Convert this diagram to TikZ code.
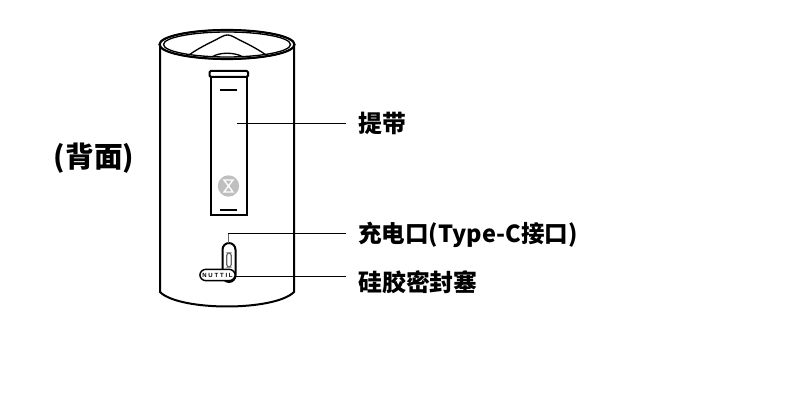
\documentclass[tikz,border=0pt]{standalone}
\usepackage{fontspec}
\setmainfont{Noto Sans CJK SC}
\newfontfamily\plugfont[LetterSpace=30]{Liberation Sans}
\usetikzlibrary{arrows.meta, positioning, calc}
\tikzset{
    bodyLine/.style={line width=1.5pt, black},
    thinLine/.style={line width=1pt, black},
    leadLine/.style={line width=0.65pt, black},
    calloutLabel/.style={anchor=west, inner xsep=9pt, inner ysep=0pt, font=\fontsize{17.9}{20}\selectfont\bfseries},
    grayDisc/.style={circle, fill=black!25, inner sep=0pt, minimum size=16pt}
}
\begin{document}
\begin{tikzpicture}[x=0.75pt, y=-0.75pt]
        \useasboundingbox (0,0) rectangle (790,416);

        % Coordinates
        \coordinate (strapEnd) at (237,123);
        \coordinate (portTop) at (228,243);
        \coordinate (portBend) at (228,233);
        \coordinate (plugEnd) at (235,276);

        % Body
        \draw[bodyLine] (160,45) -- (160,292) .. controls (170,302) and (200,306.5) .. (227,306.5)
            .. controls (254,306.5) and (284,302) .. (294,292) -- (294,45);

        % Rim and cone inside it
        \draw[thinLine, fill=white] (227,44.5) ellipse [x radius=67.5, y radius=14.5];
        \draw[line width=1.6pt] (227,44.5) ellipse [x radius=67.5, y radius=14.5];
        \draw[thinLine] (227,44.5) ellipse [x radius=63.5, y radius=12.5];
        \draw[thinLine] (189,55) .. controls (200,47) and (212,42) .. (222,36.5)
            .. controls (226,34.5) and (229,34.5) .. (233,36.5)
            .. controls (243,42) and (255,47) .. (266,55);
        \draw[thinLine] (212,57) .. controls (219,52) and (235,52) .. (243,57);

        % Strap
        \draw[bodyLine] (210.5,76) -- (210.5,215.5) -- (247,215.5) -- (247,76);
        \draw[bodyLine, fill=white, rounded corners=1pt] (209.5,71) rectangle (248,77);
        \draw[bodyLine] (220,90.5) -- (237,90.5);
        \draw[bodyLine] (220,210.5) -- (237,210.5);

        % Logo
        \node[grayDisc] (logoDisc) at (228.5,186) {};
        \draw[white, line width=1pt] (224,180) -- (233,180) -- (224,192) -- (233,192) -- cycle;

        % Charging port
        \draw[bodyLine, fill=white, rounded corners=5pt] (222.5,243) rectangle (235.5,282);
        \draw[line width=0.9pt, black!60, rounded corners=1.8pt] (226.8,253) rectangle (231.2,267);

        % Silicone plug
        \node[draw=black, line width=1.1pt, fill=white, rounded corners=4.5pt, minimum width=26.5pt, minimum height=8.5pt,
            inner sep=0pt, font=\plugfont\fontsize{4.5}{5}\selectfont\bfseries] (plugCap) at (217.5,275) {NUTTIL};

        % Labels
        \node[calloutLabel] (strapLabel) at (346,123.5) {提带};
        \node[calloutLabel, font=\fontsize{17.65}{20}\selectfont\bfseries] (portLabel) at (346,234.5) {充电口(Type-C接口)};
        \node[calloutLabel] (plugLabel) at (346,282) {硅胶密封塞};
        \node[anchor=center, inner sep=0pt, font=\fontsize{21.5}{24}\selectfont\bfseries] (backLabel) at (94,158.5) {(背面)};

        % Leaders
        \draw[leadLine] (strapEnd) -- (strapEnd -| strapLabel.west);
        \draw[leadLine, black!60] (portTop) -- (portBend);
        \draw[leadLine] (portBend) -- (portBend -| portLabel.west);
        \draw[leadLine] (plugEnd) -- (plugEnd -| plugLabel.west);
\end{tikzpicture}
\end{document}
